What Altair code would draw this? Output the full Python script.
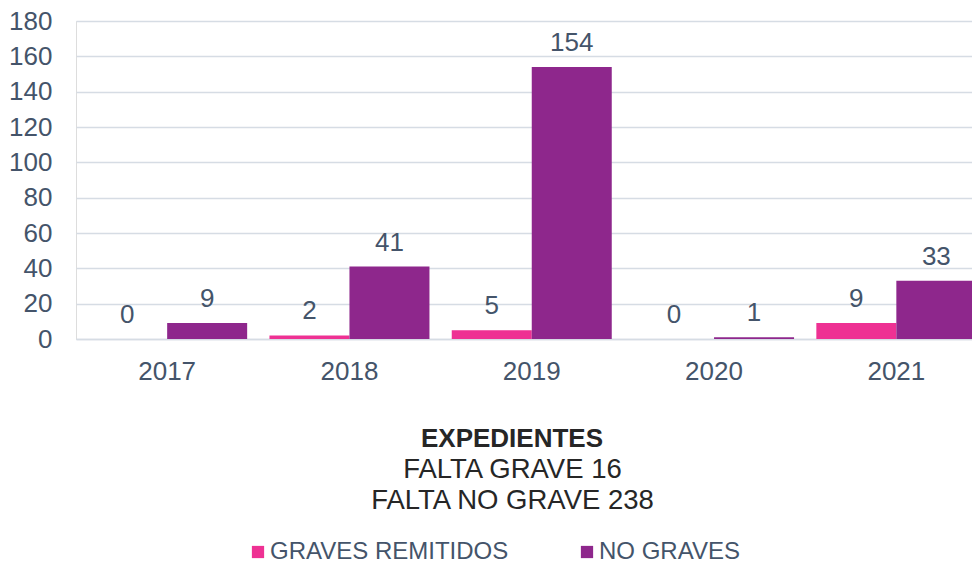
import altair as alt
import pandas as pd

years = ["2017", "2018", "2019", "2020", "2021"]
graves_remitidos = [0, 2, 5, 0, 9]
no_graves = [9, 41, 154, 1, 33]
series_names = ["GRAVES REMITIDOS", "NO GRAVES"]
series_colors = ["#EE3193", "#8E278C"]
title_text = "EXPEDIENTES"
subtitle_lines = ["FALTA GRAVE 16", "FALTA NO GRAVE 238"]

rows = []
for i, y in enumerate(years):
    rows.append({"year": y, "serie": series_names[0], "value": graves_remitidos[i]})
    rows.append({"year": y, "serie": series_names[1], "value": no_graves[i]})
df = pd.DataFrame(rows)

FONT = "Liberation Sans"
TXT = "#44546A"

x = alt.X("year:N", sort=years, title=None,
          scale=alt.Scale(range=[0, 911.5], paddingInner=0.1223, paddingOuter=0.0612),
          axis=alt.Axis(labelAngle=0, labelFontSize=26, labelColor=TXT, labelFont=FONT,
                        ticks=False, labelPadding=19, domainColor="#D6DCE4",
                        domainWidth=1.5, grid=False))
xo = alt.XOffset("serie:N", sort=series_names,
                 scale=alt.Scale(paddingInner=0, paddingOuter=0))
y = alt.Y("value:Q", title=None,
          scale=alt.Scale(domain=[0, 180], nice=False),
          axis=alt.Axis(values=list(range(0, 181, 20)), labelFontSize=26, labelColor=TXT,
                        labelFont=FONT, ticks=False, domain=False, labelPadding=24,
                        gridColor="#D6DCE4", gridWidth=1.5))

bars = alt.Chart(df).mark_bar(size=80).encode(
    x=x, xOffset=xo, y=y,
    color=alt.Color("serie:N", sort=series_names,
                    scale=alt.Scale(domain=series_names, range=series_colors),
                    legend=alt.Legend(title=None, orient="none", direction="horizontal",
                                      legendX=170, legendY=519, symbolType="square",
                                      symbolSize=150, symbolStrokeWidth=0,
                                      labelFontSize=24, labelColor=TXT, labelFont=FONT,
                                      labelOffset=0, columnPadding=66, padding=0,
                                      labelLimit=400)),
)

labels = alt.Chart(df).mark_text(fontSize=26, color=TXT, font=FONT,
                                 baseline="alphabetic", dy=-16).encode(
    x=x, xOffset=xo, y=y, text="value:Q"
)

one = pd.DataFrame({"k": [0]})
title_mark = alt.Chart(one).mark_text(
    text=title_text, fontSize=26, fontWeight="bold", font=FONT, color="#262626",
    align="center", baseline="alphabetic"
).encode(x=alt.value(436), y=alt.value(426))
sub1 = alt.Chart(one).mark_text(
    text=subtitle_lines[0], fontSize=27.5, font=FONT, color="#262626",
    align="center", baseline="alphabetic"
).encode(x=alt.value(436.5), y=alt.value(456.5))
sub2 = alt.Chart(one).mark_text(
    text=subtitle_lines[1], fontSize=27.5, font=FONT, color="#262626",
    align="center", baseline="alphabetic"
).encode(x=alt.value(436.5), y=alt.value(487.5))

chart = alt.layer(bars, labels, title_mark, sub1, sub2).properties(
    width=896, height=318,
    padding={"left": 68, "top": 13, "right": 0, "bottom": 224},
    autosize=alt.AutoSizeParams(type="none"),
).configure_view(stroke=None, clip=False).configure(font=FONT)

chart.save("out.html", embed_options={"renderer": "svg", "actions": False})
